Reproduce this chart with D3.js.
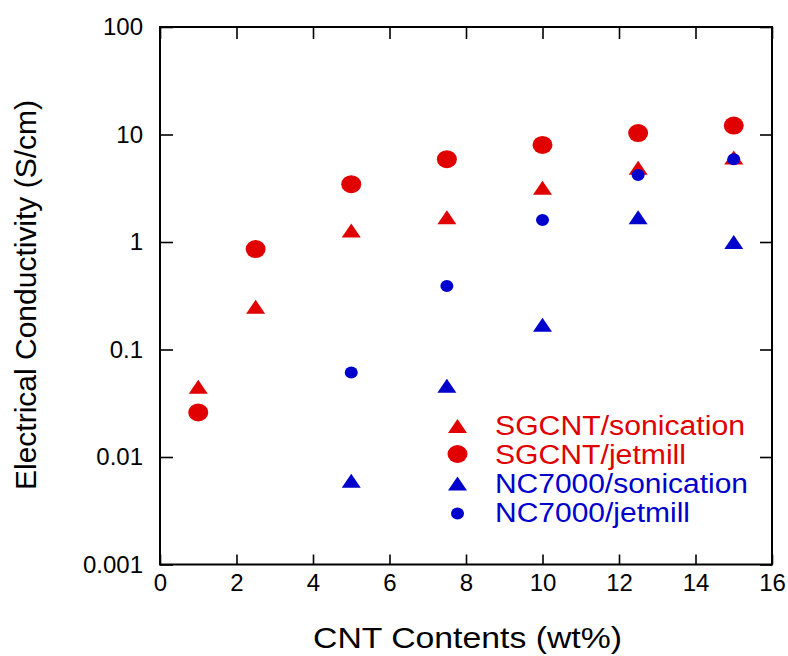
<!DOCTYPE html>
<html>
<head>
<meta charset="utf-8">
<script src="https://cdn.jsdelivr.net/npm/d3@7"></script>
<style>
  body { margin: 0; background: #fff; }
  text { font-family: "Liberation Sans", Arial, sans-serif; }
</style>
</head>
<body>
<div id="chart"></div>
<script>
// values
const contents = [1, 2.5, 5, 7.5, 10, 12.5, 15];
const contentsNC = [5, 7.5, 10, 12.5, 15];
const sgcntSonication = [0.045, 0.25, 1.28, 1.7, 3.2, 4.9, 6.1];
const sgcntJetmill = [0.026, 0.86, 3.45, 5.9, 8.0, 10.3, 12.1];
const nc7000Sonication = [0.006, 0.046, 0.17, 1.7, 1.0];
const nc7000Jetmill = [0.061, 0.39, 1.6, 4.2, 5.9];
const seriesNames = ["SGCNT/sonication", "SGCNT/jetmill", "NC7000/sonication", "NC7000/jetmill"];
const xTicks = [0, 2, 4, 6, 8, 10, 12, 14, 16];
const yTicks = [0.001, 0.01, 0.1, 1, 10, 100];
const yTickLabels = ["0.001", "0.01", "0.1", "1", "10", "100"];

const red = "#e00000", blue = "#0000cc";

const margin = {top: 27, right: 16, bottom: 91.5, left: 160};
const visWidth = 788 - margin.left - margin.right;   // 612
const visHeight = 656 - margin.top - margin.bottom;  // 537.5

const svg = d3.select("#chart").append("svg")
    .attr("width", 788).attr("height", 656);
const g = svg.append("g").attr("transform", `translate(${margin.left}, ${margin.top})`);

const x = d3.scaleLinear().domain([0, 16]).range([0, visWidth]);
const y = d3.scaleLog().domain([0.001, 100]).range([visHeight, 0]);

// marker shapes
const tri = "M0,-7L9.5,7L-9.5,7Z";
function drawMarker(sel, kind, color) {
  if (kind === "tri")
    sel.append("path").attr("d", tri).attr("fill", color);
  else if (kind === "big")
    sel.append("ellipse").attr("rx", 10).attr("ry", 9).attr("fill", color);
  else
    sel.append("ellipse").attr("rx", 6.5).attr("ry", 6).attr("fill", color);
}

const series = [
  {name: seriesNames[0], xs: contents, ys: sgcntSonication, kind: "tri", color: red},
  {name: seriesNames[1], xs: contents, ys: sgcntJetmill, kind: "big", color: red},
  {name: seriesNames[2], xs: contentsNC, ys: nc7000Sonication, kind: "tri", color: blue},
  {name: seriesNames[3], xs: contentsNC, ys: nc7000Jetmill, kind: "small", color: blue}
];

// axes
g.append("g")
    .attr("transform", "translate(0," + visHeight + ")")
    .call(d3.axisBottom(x).tickValues(xTicks).tickSize(-10).tickSizeOuter(0).tickPadding(9));
g.append("g")
    .call(d3.axisLeft(y).tickValues(yTicks).tickSize(-13).tickSizeOuter(0).tickPadding(17)
      .tickFormat((d, i) => yTickLabels[i]));
g.append("g")
    .call(d3.axisTop(x).tickValues(xTicks).tickSize(-12).tickSizeOuter(0).tickFormat(""));
g.append("g")
    .attr("transform", "translate(" + visWidth + ",0)")
    .call(d3.axisRight(y).tickValues(yTicks).tickSize(-12).tickSizeOuter(0).tickFormat(""));

g.selectAll(".domain").remove();
g.selectAll(".tick line").attr("stroke", "#000").attr("stroke-width", 1.6);
g.selectAll(".tick text").attr("font-size", "24px").attr("fill", "#000")
    .attr("font-family", "'Liberation Sans', Arial, sans-serif");

g.append("rect")
    .attr("width", visWidth).attr("height", visHeight)
    .attr("fill", "none").attr("stroke", "#000").attr("stroke-width", 2);

// points
series.forEach(s => {
  g.selectAll(null)
    .data(s.xs.map((d, i) => [d, s.ys[i]]))
    .enter()
    .append("g")
      .attr("transform", d => `translate(${x(d[0])},${y(d[1])})`)
      .each(function() { drawMarker(d3.select(this), s.kind, s.color); });
});

// legend
const legendY = [426, 454, 483.5, 513.5];
const legendBase = [435, 464, 493, 522];
const legendTextLen = [250, 191, 253, 195];
series.forEach((s, i) => {
  const m = svg.append("g").attr("transform", `translate(457.5,${legendY[i]})`);
  drawMarker(m, s.kind, s.color);
  svg.append("text")
    .attr("x", 495).attr("y", legendBase[i])
    .attr("font-size", "27px")
    .attr("fill", s.color)
    .attr("textLength", legendTextLen[i])
    .attr("lengthAdjust", "spacingAndGlyphs")
    .text(s.name);
});

// axis titles
svg.append("text")
    .attr("x", 467.5).attr("y", 648)
    .attr("text-anchor", "middle")
    .attr("font-size", "30px")
    .attr("textLength", 309)
    .attr("lengthAdjust", "spacingAndGlyphs")
    .text("CNT Contents (wt%)");

svg.append("text")
    .attr("transform", "translate(36,295) rotate(-90)")
    .attr("text-anchor", "middle")
    .attr("font-size", "29px")
    .attr("textLength", 390)
    .attr("lengthAdjust", "spacingAndGlyphs")
    .text("Electrical Conductivity (S/cm)");
</script>
</body>
</html>
